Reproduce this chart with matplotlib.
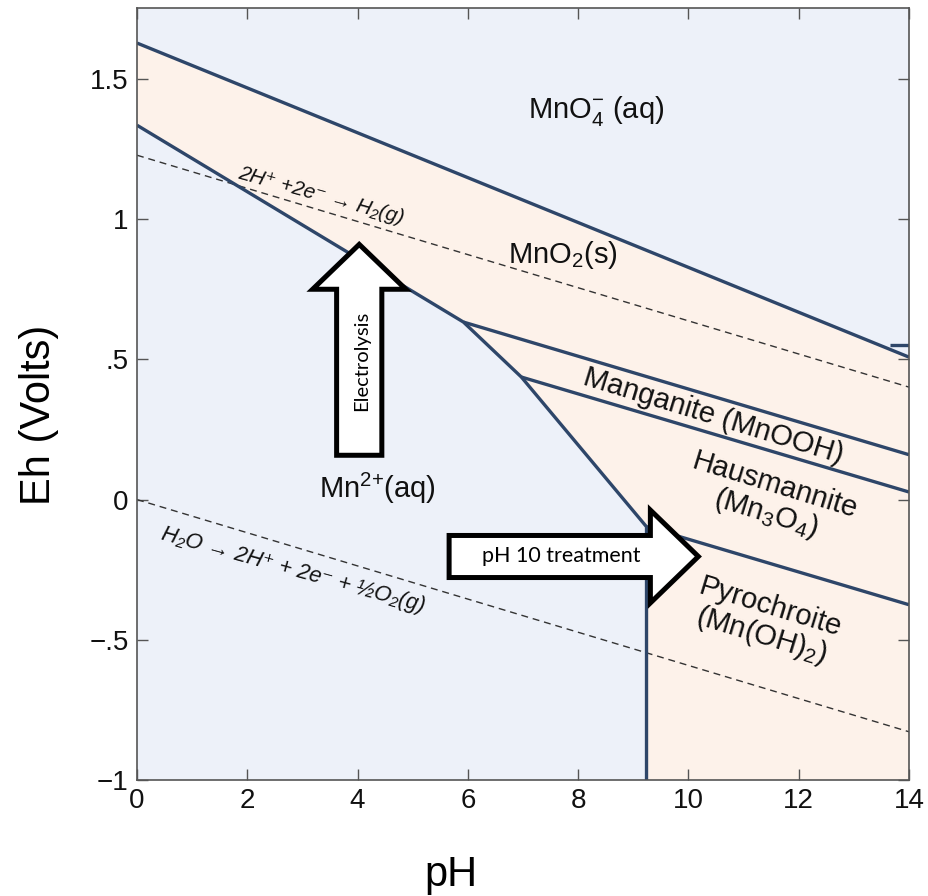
import matplotlib
matplotlib.use("Agg")
from matplotlib import pyplot as plt
from matplotlib.patches import FancyArrow

plt.rcParams["font.family"] = ["Liberation Sans", "DejaVu Sans"]
plt.rcParams["mathtext.default"] = "regular"

# boundary lines (pH, Eh in volts)
mno4_ph = [0, 14]
mno4_eh = [1.628, 0.508]
mno4_stub_ph = [13.65, 14]
mno4_stub_eh = [0.552, 0.552]
mn2_ph = [0, 5.92, 6.97, 9.24, 9.24]
mn2_eh = [1.335, 0.633, 0.437, -0.097, -1.0]
manganite_ph = [5.92, 14]
manganite_eh = [0.633, 0.160]
hausmannite_ph = [6.97, 14]
hausmannite_eh = [0.437, 0.027]
pyrochroite_ph = [9.24, 14]
pyrochroite_eh = [-0.097, -0.375]

# water stability lines (dashed)
upper_water_ph = [0, 14]
upper_water_eh = [1.228, 0.401]
lower_water_ph = [0, 14]
lower_water_eh = [0.0, -0.828]

xticks = [0, 2, 4, 6, 8, 10, 12, 14]
yticks = [-1, -0.5, 0, 0.5, 1, 1.5]
ytick_labels = ["\u22121", "\u2212.5", "0", ".5", "1", "1.5"]

blue_bg = "#edf1f9"
peach = "#fdf2ea"
line_c = "#2e4669"
spine_c = "#555555"

fig = plt.figure(figsize=(9.29, 8.96), dpi=100)
ax = fig.add_axes([137 / 929, 1 - 780 / 896, 772 / 929, 772 / 896])
ax.set_xlim(0, 14)
ax.set_ylim(-1, 1.753)
ax.set_facecolor(blue_bg)

# solid-phase (MnO2 and below) region
poly_ph = mno4_ph + [14] + mn2_ph[::-1]
poly_eh = mno4_eh + [-1.0] + mn2_eh[::-1]
ax.fill(poly_ph, poly_eh, color=peach, lw=0, zorder=1)

lw = 2.4
for xs, ys in [
    (mno4_ph, mno4_eh),
    (mno4_stub_ph, mno4_stub_eh),
    (mn2_ph, mn2_eh),
    (manganite_ph, manganite_eh),
    (hausmannite_ph, hausmannite_eh),
    (pyrochroite_ph, pyrochroite_eh),
]:
    ax.plot(xs, ys, color=line_c, lw=lw, zorder=3, solid_capstyle="butt")

for xs, ys in [(upper_water_ph, upper_water_eh), (lower_water_ph, lower_water_eh)]:
    ax.plot(xs, ys, color="#333333", lw=1.0, ls=(0, (5, 3.5)), zorder=2)

# arrows
arr1 = FancyArrow(4.03, 0.158, 0, 0.752, width=0.82, head_width=1.69,
                  head_length=0.160, length_includes_head=True,
                  fc="white", ec="black", lw=3.6, joinstyle="miter", zorder=5)
arr2 = FancyArrow(5.66, -0.203, 4.52, 0, width=0.150, head_width=0.331,
                  head_length=0.87, length_includes_head=True,
                  fc="white", ec="black", lw=3.6, joinstyle="miter", zorder=5)
ax.add_patch(arr1)
ax.add_patch(arr2)
ax.text(4.07, 0.496, "Electrolysis", rotation=90, ha="center", va="center",
        fontsize=14.5, family=["Lato", "DejaVu Sans"], zorder=6)
ax.text(7.70, -0.202, "pH 10 treatment", ha="center", va="center",
        fontsize=15.5, family=["Lato", "DejaVu Sans"], zorder=6)

# region labels
lab = dict(fontsize=21, ha="center", va="center", zorder=6, color="#111111")
ax.text(8.32, 1.385, "MnO$_4^{-}$ (aq)", **lab)
ax.text(7.72, 0.873, "MnO$_2$(s)", **lab)
ax.text(4.36, 0.04, "Mn$^{2{+}}$(aq)", **lab)
ax.text(10.46, 0.296, "Manganite (MnOOH)", rotation=-17, rotation_mode="anchor", **lab)
ax.text(11.49, -0.003, "Hausmannite\n(Mn$_3$O$_4$)", rotation=-17,
        rotation_mode="anchor", multialignment="center", linespacing=1.0, **lab)
ax.text(11.40, -0.437, "Pyrochroite\n(Mn(OH)$_2$)", rotation=-17,
        rotation_mode="anchor", multialignment="center", linespacing=1.0, **lab)

eq = dict(ha="center", va="center", style="italic", zorder=6,
          color="#111111", rotation=-15.5, rotation_mode="anchor")
ax.text(3.33, 1.084, "2H\u207a +2e\u207b \u2192 H\u2082(g)", fontsize=15, **eq)
ax.text(2.84, -0.253, "H\u2082O \u2192 2H\u207a + 2e\u207b + \u00bdO\u2082(g)",
        fontsize=15.8, **eq)

# axes styling
ax.set_xticks(xticks)
ax.set_xticklabels([str(t) for t in xticks])
ax.set_yticks(yticks)
ax.set_yticklabels(ytick_labels)
ax.tick_params(direction="in", length=8, width=1.0, color=spine_c, labelsize=20,
               labelcolor="#111111", top=True, right=True, pad=6)
for s in ax.spines.values():
    s.set_color(spine_c)
    s.set_linewidth(1.2)
    s.set_zorder(7)

ax.set_xlabel("pH", fontsize=30)
ax.xaxis.set_label_coords(0.407, -0.097)
ax.set_ylabel("Eh (Volts)", fontsize=30)
ax.yaxis.set_label_coords(-0.101, 0.473)

fig.savefig("out.png", dpi=100)
